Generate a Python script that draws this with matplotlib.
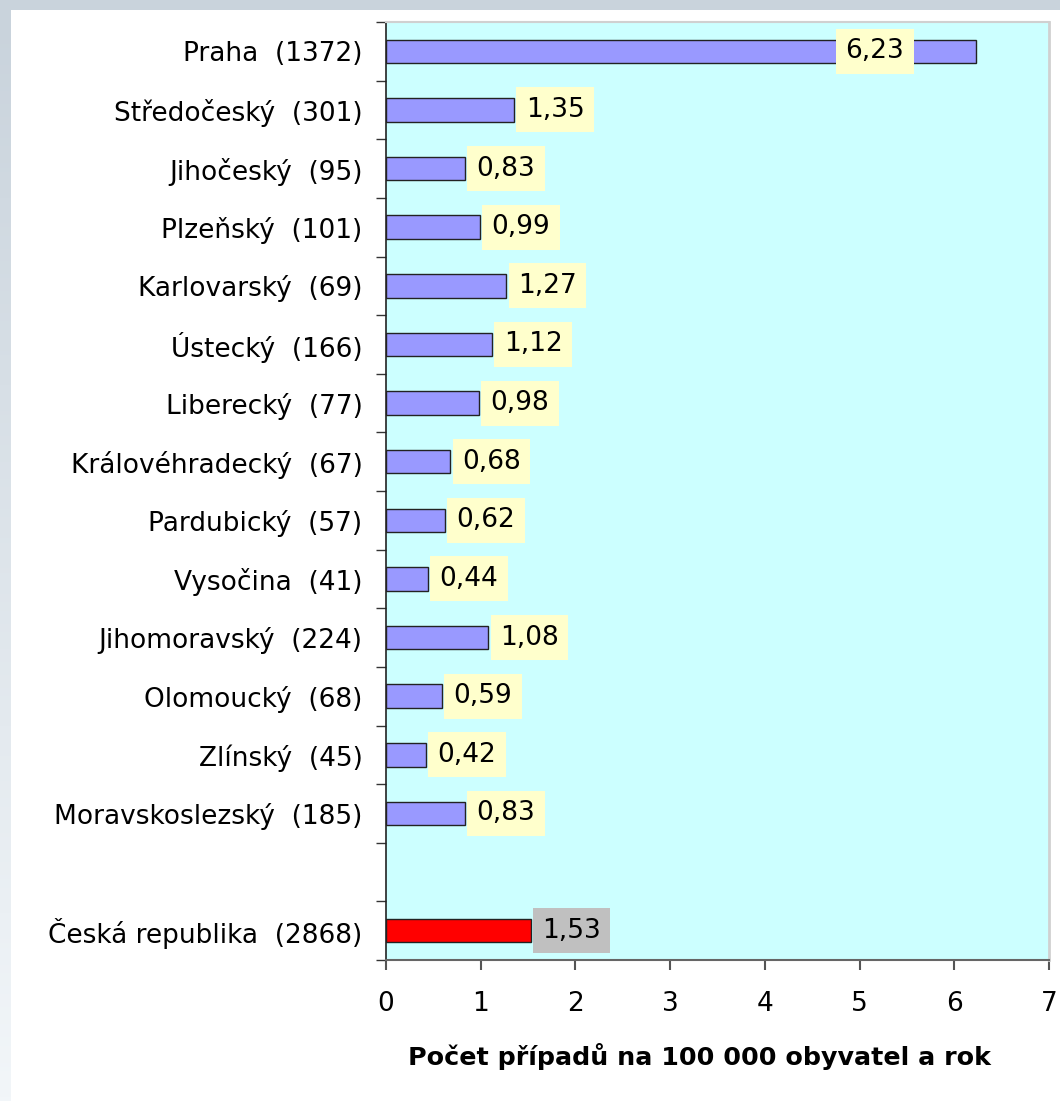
import matplotlib
matplotlib.use("Agg")
import matplotlib.pyplot as plt
import numpy as np
from matplotlib.patches import Rectangle
from matplotlib.colors import LinearSegmentedColormap

regions = ["Praha", "Středočeský", "Jihočeský", "Plzeňský", "Karlovarský", "Ústecký",
           "Liberecký", "Královéhradecký", "Pardubický", "Vysočina", "Jihomoravský",
           "Olomoucký", "Zlínský", "Moravskoslezský"]
counts = [1372, 301, 95, 101, 69, 166, 77, 67, 57, 41, 224, 68, 45, 185]
rates = [6.23, 1.35, 0.83, 0.99, 1.27, 1.12, 0.98, 0.68, 0.62, 0.44, 1.08, 0.59, 0.42, 0.83]
total_name = "Česká republika"
total_count = 2868
total_rate = 1.53
xticks = [0, 1, 2, 3, 4, 5, 6, 7]
xlabel = "Počet případů na 100 000 obyvatel a rok"

plt.rcParams['font.family'] = ['DejaVu Sans']

fig = plt.figure(figsize=(10.6, 11.01), dpi=100)
fig.patch.set_facecolor('#c9d3dc')
# white panel
fig.patches.append(Rectangle((11/1060, 0), 1 - 11/1060, 1 - 10/1101, transform=fig.transFigure,
                             facecolor='white', edgecolor='none', zorder=-5))
# left gradient strip
gax = fig.add_axes([0, 0, 11/1060, 1 - 10/1101])
gax.set_zorder(-4)
cmap = LinearSegmentedColormap.from_list('strip', ['#c9d3dc', '#f2f6f9'])
gax.imshow(np.linspace(0, 1, 256).reshape(-1, 1), aspect='auto', cmap=cmap)
gax.axis('off')

ax = fig.add_axes([386/1060, 1 - 960/1101, (1049 - 386)/1060, (960 - 22)/1101])
ax.set_zorder(2)
ax.set_facecolor('#ccffff')

n = len(regions)
ypos = np.arange(n)
total_y = n + 1
labels = [f"{r}  ({c})" for r, c in zip(regions, counts)]

ax.barh(ypos, rates, height=0.4, color='#9999ff', edgecolor='#222222', linewidth=1, zorder=3)
ax.barh([total_y], [total_rate], height=0.4, color='#ff0000', edgecolor='#222222', linewidth=1, zorder=3)

fs = 19
bpad = 0.36
def fmt(v):
    return f"{v:.2f}".replace('.', ',')

for y, v in zip(ypos, rates):
    if v > 5:
        off = -94
    else:
        off = 8.5
    ax.annotate(fmt(v), xy=(v, y), xytext=(off, 0), textcoords='offset points',
                va='center', ha='left', fontsize=fs, zorder=4,
                bbox=dict(boxstyle=f'square,pad={bpad}', facecolor='#ffffcc', edgecolor='none'))
ax.annotate(fmt(total_rate), xy=(total_rate, total_y), xytext=(8, 0), textcoords='offset points',
            va='center', ha='left', fontsize=fs, zorder=4,
            bbox=dict(boxstyle=f'square,pad={bpad}', facecolor='#c0c0c0', edgecolor='none'))

ax.set_ylim(total_y + 0.5, -0.5)
ax.set_xlim(0, 7)
ax.set_xticks(xticks)
ax.set_xticklabels([str(t) for t in xticks], fontsize=fs)
ax.set_yticks(list(ypos) + [total_y])
ax.set_yticklabels(labels + [f"{total_name}  ({total_count})"], fontsize=fs)
ax.tick_params(axis='y', length=0, pad=17)
ax.set_yticks(np.arange(-0.5, total_y + 1, 1.0), minor=True)
ax.tick_params(axis='y', which='minor', length=7, color='#333333', width=1)
ax.tick_params(axis='x', length=7, color='#555555', width=1.5, pad=15.5, direction='out')

ax.spines['left'].set_color('#222222')
ax.spines['left'].set_linewidth(1.2)
ax.spines['bottom'].set_color('#666666')
ax.spines['bottom'].set_linewidth(1.5)
ax.spines['top'].set_color('#d0d0d0')
ax.spines['right'].set_color('#d0d0d0')
ax.spines['right'].set_linewidth(2)
ax.spines['top'].set_linewidth(1.5)

ax.set_xlabel(xlabel, fontsize=18.3, fontweight='bold')
ax.xaxis.set_label_coords((699 - 386) / 663, -(1057 - 960) / 938, transform=ax.transAxes)
ax.xaxis.label.set_va('center')

fig.savefig("out.png", dpi=100, facecolor=fig.get_facecolor())
